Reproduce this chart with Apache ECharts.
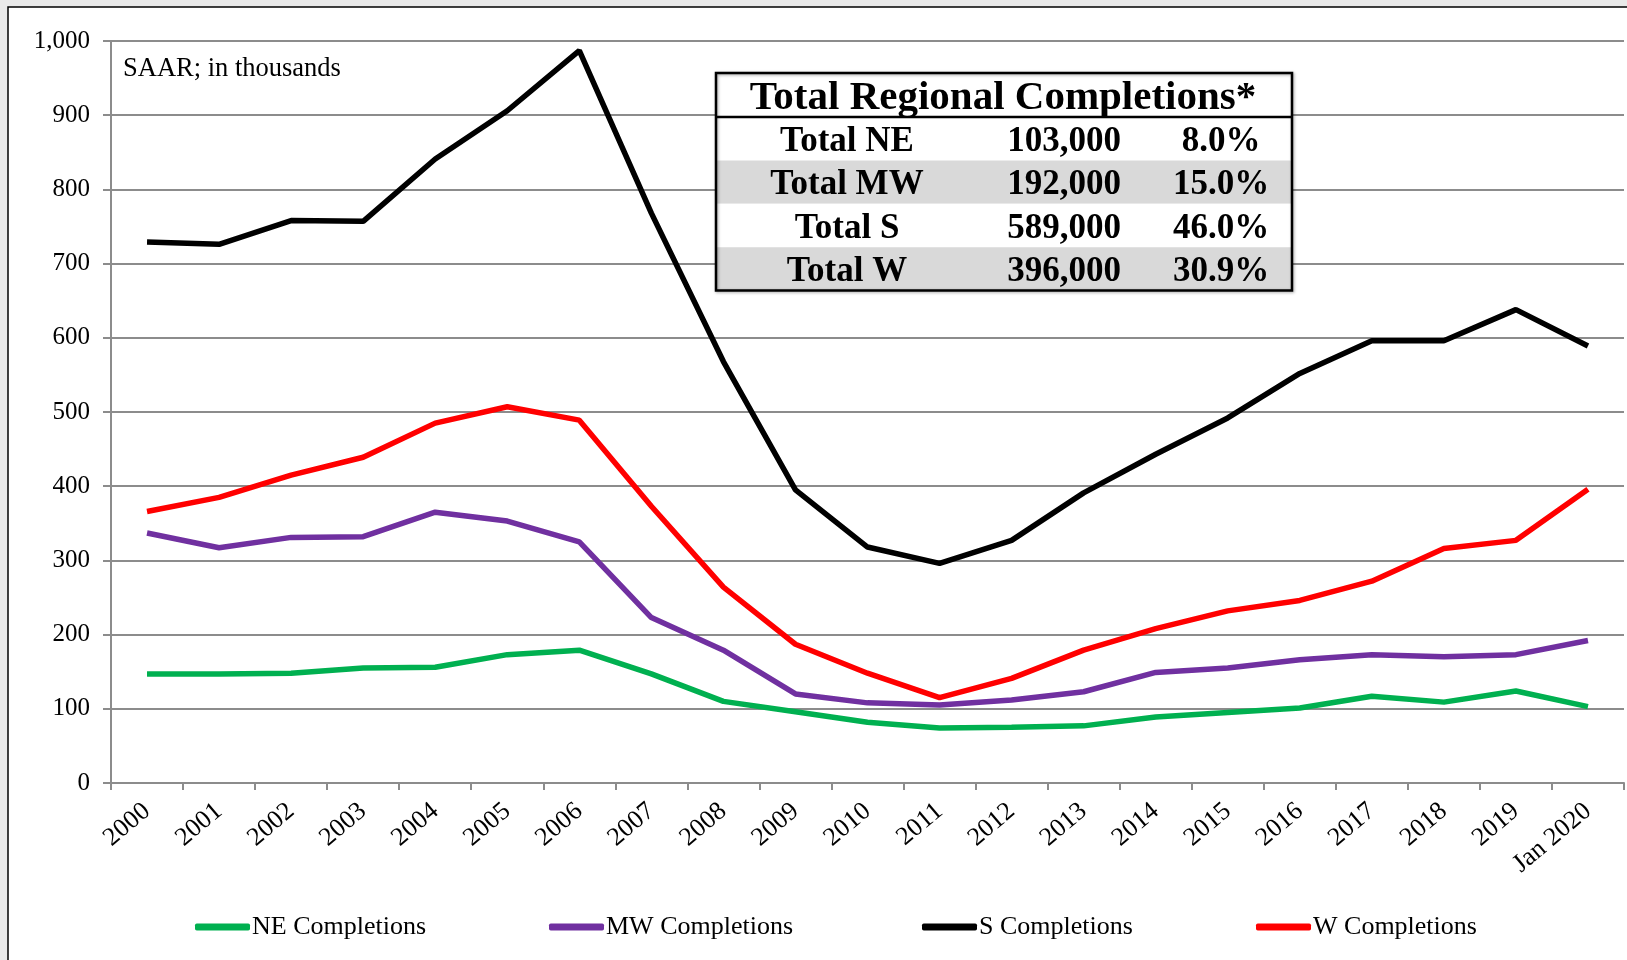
<!DOCTYPE html>
<html>
<head>
<meta charset="utf-8">
<script src="https://cdn.jsdelivr.net/npm/echarts@6/dist/echarts.min.js"></script>
<style>
	html, body { margin: 0; padding: 0; background: #e9e9e9; }
	#main { width: 1627px; height: 960px; }
</style>
</head>
<body>
<div id="main"></div>
<script>
// categories
var years = ['2000', '2001', '2002', '2003', '2004', '2005', '2006', '2007', '2008', '2009', '2010',
	'2011', '2012', '2013', '2014', '2015', '2016', '2017', '2018', '2019', 'Jan 2020'];
// completions, SAAR, thousands
var neData = [147, 147, 148, 155, 156, 173, 179, 147, 110, 96, 82, 74, 75, 77, 89, 95, 101, 117, 109, 124, 103];
var mwData = [337, 317, 331, 332, 365, 353, 325, 223, 179, 120, 108, 105, 112, 123, 149, 155, 166, 173, 170, 173, 192];
var sData = [729, 726, 758, 757, 841, 906, 987, 768, 568, 395, 318, 296, 327, 391, 443, 492, 552, 596, 596, 638, 589];
var wData = [366, 385, 415, 439, 485, 507, 489, 373, 264, 187, 148, 115, 141, 179, 208, 232, 246, 272, 316, 327, 396];
// y tick values
var yTicks = [0, 100, 200, 300, 400, 500, 600, 700, 800, 900, 1000];
// table
var tableTitle = 'Total Regional Completions*';
var tableLabels = ['Total NE', 'Total MW', 'Total S', 'Total W'];
var tableValues = ['103,000', '192,000', '589,000', '396,000'];
var tableShares = ['8.0%', '15.0%', '46.0%', '30.9%'];

var serif = '"Liberation Serif", "Times New Roman", serif';
var gridGrey = '#8c8c8c';

var chart = echarts.init(document.getElementById('main'));

//	表格
var tX = 716, tW = 576, tTop = 73, headH = 44, rowH = 43.4;
var tableEls = [];
for (var i = 0; i < tableLabels.length; i++) {
	var rowY = tTop + headH + i * rowH;
	tableEls.push({
		type: 'rect',
		z: 100,
		shape: { x: tX, y: rowY, width: tW, height: rowH },
		style: { fill: i % 2 == 1 ? '#d9d9d9' : '#fff' }
	});
	var cols = [[tableLabels[i], 847], [tableValues[i], 1064], [tableShares[i], 1221]];
	for (var c = 0; c < cols.length; c++) {
		tableEls.push({
			type: 'text',
			z: 101,
			style: {
				text: cols[c][0], x: cols[c][1], y: rowY + rowH / 2 + 3,
				align: 'center', verticalAlign: 'middle',
				font: 'bold 35px ' + serif, fill: '#000'
			}
		});
	}
}
tableEls.push({
	type: 'rect',
	z: 100,
	shape: { x: tX, y: tTop, width: tW, height: headH },
	style: { fill: '#fff' }
});
tableEls.push({
	type: 'text',
	z: 101,
	style: {
		text: tableTitle, x: tX + tW / 2 - 1, y: tTop + headH / 2 + 3,
		align: 'center', verticalAlign: 'middle',
		font: 'bold 41px ' + serif, fill: '#000'
	}
});
tableEls.push({
	type: 'line',
	z: 102,
	shape: { x1: tX, y1: tTop + headH, x2: tX + tW, y2: tTop + headH },
	style: { stroke: '#000', lineWidth: 2.5 }
});
tableEls.push({
	type: 'rect',
	z: 102,
	shape: { x: tX, y: tTop, width: tW, height: headH + rowH * 4 },
	style: { fill: null, stroke: '#000', lineWidth: 2.5, shadowBlur: 3, shadowColor: 'rgba(0,0,0,0.35)', shadowOffsetX: 1, shadowOffsetY: 1 }
});

function legendItem(name, left) {
	return {
		data: [name],
		left: left,
		top: 909,
		icon: 'roundRect',
		itemWidth: 55,
		itemHeight: 7,
		textStyle: { fontSize: 26, color: '#000', fontFamily: serif, padding: [0, 0, 0, -3] }
	};
}

function lineSeries(name, data, color) {
	return {
		name: name,
		type: 'line',
		data: data,
		showSymbol: false,
		symbol: 'none',
		lineStyle: { color: color, width: 5.5 },
		itemStyle: { color: color }
	};
}

var option = {
	animation: false,
	textStyle: { fontFamily: serif },
	title: {
		text: 'SAAR; in thousands',
		left: 118,
		top: 51,
		textStyle: { fontSize: 26.5, fontWeight: 'normal', color: '#000', fontFamily: serif }
	},
	legend: [
		legendItem('NE Completions', 190),
		legendItem('MW Completions', 544),
		legendItem('S Completions', 917),
		legendItem('W Completions', 1251)
	],
	grid: { left: 111, right: 3, top: 41, bottom: 177 },
	xAxis: {
		type: 'category',
		data: years,
		boundaryGap: true,
		axisLine: { lineStyle: { color: gridGrey, width: 2 } },
		axisTick: { show: true, length: 7, lineStyle: { color: gridGrey, width: 2 } },
		axisLabel: { rotate: 40, interval: 0, fontSize: 26, color: '#000', fontFamily: serif, margin: 25 }
	},
	yAxis: {
		type: 'value',
		min: yTicks[0],
		max: yTicks[yTicks.length - 1],
		interval: yTicks[1] - yTicks[0],
		axisLine: { show: true, lineStyle: { color: gridGrey, width: 2 } },
		axisTick: { show: true, length: 8, lineStyle: { color: gridGrey, width: 2 } },
		splitLine: { lineStyle: { color: gridGrey, width: 2 } },
		axisLabel: {
			fontSize: 25, color: '#000', fontFamily: serif, margin: 21,
			formatter: function(v) { return v.toLocaleString('en-US'); }
		}
	},
	graphic: [
		{
			type: 'rect',
			z: -10,
			silent: true,
			shape: { x: 8, y: 7, width: 1700, height: 1000 },
			style: { fill: '#fff', stroke: '#000', lineWidth: 1.5 }
		},
		{
			type: 'group',
			children: tableEls
		}
	],
	series: [
		lineSeries('NE Completions', neData, '#00b050'),
		lineSeries('MW Completions', mwData, '#7030a0'),
		lineSeries('S Completions', sData, '#000000'),
		lineSeries('W Completions', wData, '#ff0000')
	]
};
chart.setOption(option);
</script>
</body>
</html>
